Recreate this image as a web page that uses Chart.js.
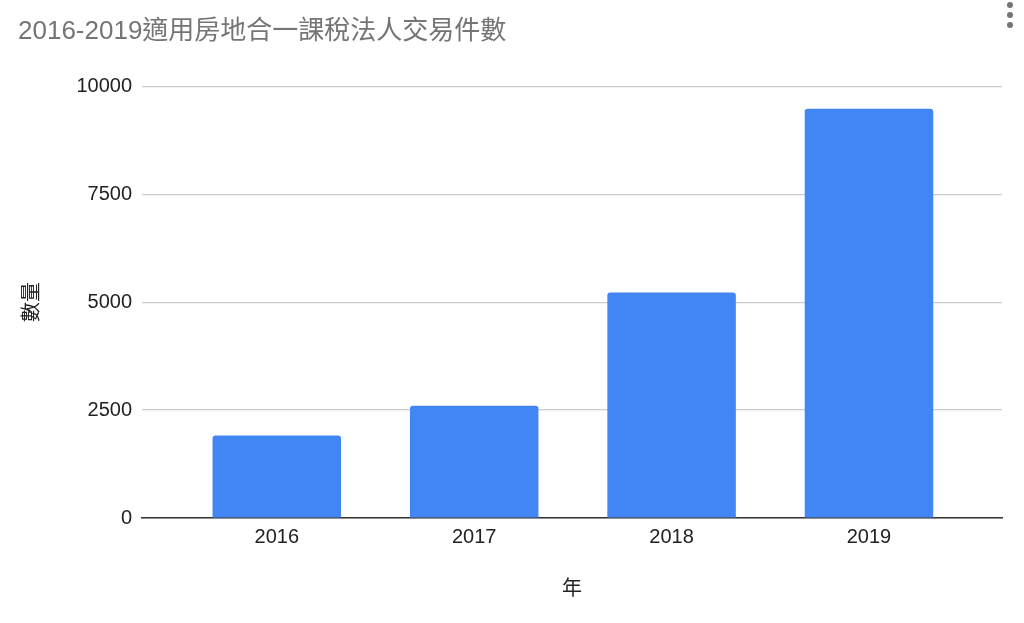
<!DOCTYPE html>
<html>
<head>
<meta charset="utf-8">
<script src="https://cdn.jsdelivr.net/npm/chart.js@4"></script>
<style>
  html, body { margin: 0; padding: 0; background: #fff; }
  #wrap { position: relative; width: 1024px; height: 623px; }
  .dot { position: absolute; left: 1007px; width: 6px; height: 6px; border-radius: 50%; background: #757575; }
</style>
</head>
<body>
<div id="wrap">
  <canvas id="chart" width="1024" height="623"></canvas>
  <div class="dot" style="top:2px"></div>
  <div class="dot" style="top:12px"></div>
  <div class="dot" style="top:22px"></div>
</div>
<script>
// data
const years = ['2016', '2017', '2018', '2019'];
const counts = [1910, 2600, 5220, 9480];
const yTicks = [0, 2500, 5000, 7500, 10000];

const titleText = '2016-2019適用房地合一課稅法人交易件數';
const xTitle = '年';
const yTitle = '數量';

(function () {
    const fam = "Arial, 'Liberation Sans', 'Noto Sans CJK TC', sans-serif";
    const ctx = document.getElementById('chart').getContext('2d');
    const points = years.map((y, i) => ({ x: i, y: counts[i] }));

    new Chart(ctx, {
        type: 'bar',
        data: {
            datasets: [{
                data: points,
                backgroundColor: '#4285f4',
                borderRadius: 3,
                categoryPercentage: 1,
                barPercentage: 0.651
            }]
        },
        options: {
            responsive: false,
            animation: false,
            layout: { padding: { left: 18, right: 22, top: 0, bottom: 0 } },
            plugins: {
                legend: { display: false },
                tooltip: { enabled: false },
                title: {
                    display: true, text: titleText, align: 'start', color: '#757575',
                    font: { family: fam, size: 26, weight: 'normal' }, padding: { top: 16, bottom: 39 }
                }
            },
            scales: {
                x: {
                    type: 'linear',
                    offset: false,
                    min: -0.683, max: 3.674,
                    grid: { display: false, drawTicks: false, offset: false },
                    border: { display: true, color: '#333', width: 1.5 },
                    ticks: {
                        stepSize: 1, includeBounds: false, padding: 7, color: '#222',
                        font: { family: fam, size: 20 },
                        callback: v => years[v] || ''
                    },
                    title: { display: true, text: xTitle, color: '#222', font: { family: fam, size: 20 }, padding: { bottom: 22 } },
                    afterFit: s => { s.height = 105; }
                },
                y: {
                    min: yTicks[0], max: yTicks[yTicks.length - 1],
                    grid: { color: '#cccccc', lineWidth: 1.2, drawTicks: false },
                    border: { display: false },
                    afterBuildTicks: s => { s.ticks = yTicks.map(v => ({ value: v })); },
                    ticks: {
                        padding: 10, color: '#222',
                        font: { family: fam, size: 20 },
                        callback: v => String(v)
                    },
                    title: { display: true, text: yTitle, color: '#222', font: { family: fam, size: 20 }, padding: { top: 2 } },
                    afterFit: s => { s.width = 124; }
                }
            }
        }
    });
})();
</script>
</body>
</html>
